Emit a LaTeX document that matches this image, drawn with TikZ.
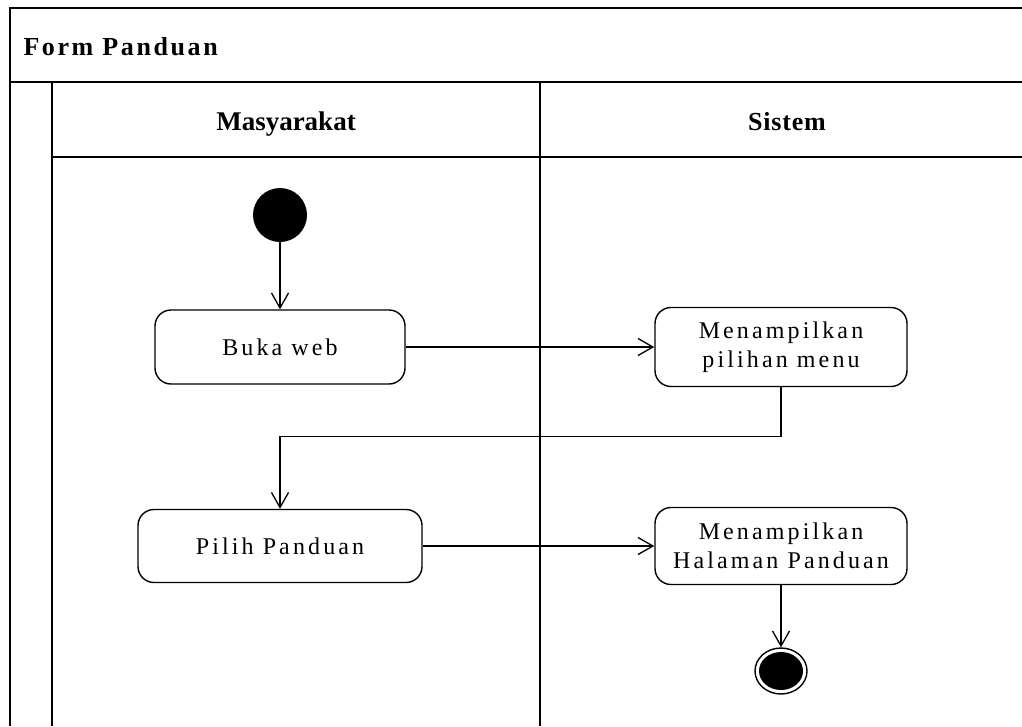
\documentclass[tikz,border=0pt]{standalone}
\usepackage{fontspec}
\setmainfont{Liberation Serif}
\usetikzlibrary{arrows.meta, positioning, shapes.geometric}

\begin{document}
\begin{tikzpicture}[x=1pt, y=-1pt,
    lane/.style={line width=1.6pt},
    header/.style={font=\fontsize{27}{31}\selectfont\bfseries},
    activity/.style={draw, line width=1.4pt, rounded corners=16pt, inner sep=0pt, align=center,
        font=\fontsize{24}{29}\selectfont\addfontfeatures{LetterSpace=13}},
    flow/.style={line width=1.3pt, -{Straight Barb[length=15pt, width=17pt]}}]
    \useasboundingbox (0,0) rectangle (1022,726);
    % frame and lanes
    \draw[lane] (1022,8) -- (10,8) -- (10,726);
    \draw[lane] (10,82) -- (1022,82);
    \draw[lane] (52,82) -- (52,726);
    \draw[lane] (52,157) -- (1022,157);
    \draw[lane] (540,82) -- (540,726);
    \node[header, anchor=base west, font=\fontsize{26}{30}\selectfont\bfseries\addfontfeatures{LetterSpace=10}] (title) at (20,55) {Form Panduan};
    \node[header, anchor=base] (masyarakat) at (286,130) {Masyarakat};
    \node[header, anchor=base, font=\fontsize{26}{30}\selectfont\bfseries\addfontfeatures{LetterSpace=3}] (sistem) at (787,130) {Sistem};
    % activities
    \node[circle, fill=black, minimum size=54pt, inner sep=0pt] (start) at (280,215) {};
    \node[activity, minimum width=250pt, minimum height=74pt] (buka) at (280,347) {Buka web};
    \node[activity, minimum width=252pt, minimum height=79pt] (menu) at (781,347) {Menampilkan\\pilihan menu};
    \node[activity, minimum width=284pt, minimum height=73pt] (pilih) at (280,546) {Pilih Panduan};
    \node[activity, minimum width=252pt, minimum height=77pt] (halaman) at (781,546) {Menampilkan\\Halaman Panduan};
    \node[ellipse, draw, line width=1.4pt, minimum width=52pt, minimum height=46pt, inner sep=0pt] (stop) at (781,671) {};
    \fill (stop.center) ellipse [x radius=22pt, y radius=19pt];
    % flows
    \draw[flow] (start) -- (buka);
    \draw[flow] (buka.east) -- (buka.east -| menu.west);
    \draw[flow] (menu.south) -- ++(0,49) -| (pilih.north);
    \draw[flow] (pilih.east) -- (pilih.east -| halaman.west);
    \draw[flow] (halaman) -- (stop);
\end{tikzpicture}
\end{document}
